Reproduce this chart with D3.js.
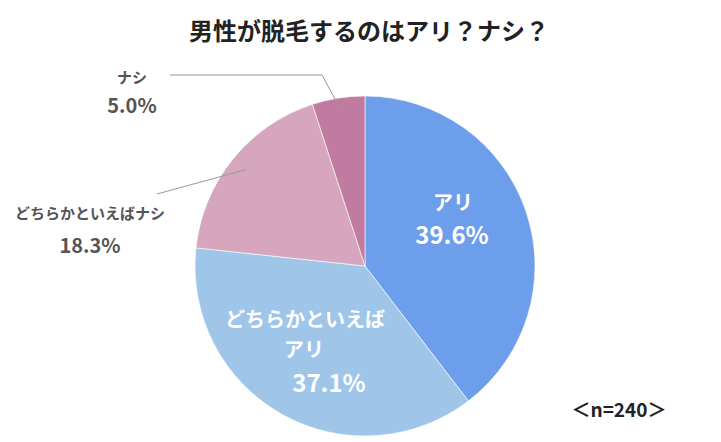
<!DOCTYPE html>
<html><head><meta charset="utf-8">
<script src="https://cdn.jsdelivr.net/npm/d3@7"></script>
<style>body{margin:0;background:#fff;font-family:"Noto Sans CJK JP","Noto Sans",sans-serif;}</style>
</head><body><svg id="c" width="721" height="442"></svg>
<script>
const categories = ["アリ","どちらかといえばアリ","どちらかといえばナシ","ナシ"];
const values = [39.6, 37.1, 18.3, 5.0];
const colors = ["#6d9eeb","#9fc5e8","#d5a6bd","#c27ba0"];
const title = "男性が脱毛するのはアリ？ナシ？";
const note = "＜n=240＞";

const svg = d3.select("#c");
const cx = 365, cy = 266, r = 170;
svg.append("text").attr("x",369).attr("y",40).attr("text-anchor","middle")
  .attr("font-size",24).attr("font-weight","bold").attr("fill","#222").text(title);

const pie = d3.pie().sort(null).value(d=>d)(values);
const arc = d3.arc().innerRadius(0).outerRadius(r);
const g = svg.append("g").attr("transform",`translate(${cx},${cy})`);
g.selectAll("path").data(pie).join("path").attr("d",arc)
  .attr("fill",(d,i)=>colors[i]).attr("stroke","#fff").attr("stroke-width",0.6);

// inner labels
const inner = svg.append("g").attr("fill","#fff").attr("font-weight","bold").attr("text-anchor","middle");
inner.append("text").attr("x",453).attr("y",210).attr("font-size",20).text(categories[0]);
inner.append("text").attr("x",452).attr("y",244).attr("font-size",24).text(values[0].toFixed(1)+"%");
inner.append("text").attr("x",305).attr("y",327).attr("font-size",20).text("どちらかといえば");
inner.append("text").attr("x",304).attr("y",357).attr("font-size",20).text("アリ");
inner.append("text").attr("x",329).attr("y",392).attr("font-size",24).text(values[1].toFixed(1)+"%");

// outer labels
const outer = svg.append("g").attr("fill","#555").attr("font-weight","bold").attr("text-anchor","middle");
outer.append("text").attr("x",132).attr("y",83).attr("font-size",15).text(categories[3]);
outer.append("text").attr("x",132).attr("y",113).attr("font-size",20).text(values[3].toFixed(1)+"%");
outer.append("text").attr("x",90).attr("y",219).attr("font-size",15).text(categories[2]);
outer.append("text").attr("x",90).attr("y",253).attr("font-size",20).text(values[2].toFixed(1)+"%");

// leader lines
const line = d3.line();
const a3 = (pie[3].startAngle+pie[3].endAngle)/2;
const p3 = [cx+Math.sin(a3)*r*0.94, cy-Math.cos(a3)*r*0.94];
svg.append("path").attr("d",line([[170,75],[322,75],p3])).attr("fill","none").attr("stroke","#999").attr("stroke-width",1);
const a2 = (pie[2].startAngle+pie[2].endAngle)/2;
const p2 = [cx+Math.sin(a2)*r*0.9, cy-Math.cos(a2)*r*0.9];
svg.append("path").attr("d",line([[157,194],p2])).attr("fill","none").attr("stroke","#999").attr("stroke-width",1);

svg.append("text").attr("x",619).attr("y",417).attr("text-anchor","middle")
  .attr("font-size",19).attr("font-weight","bold").attr("fill","#222").text(note);
</script></body></html>
